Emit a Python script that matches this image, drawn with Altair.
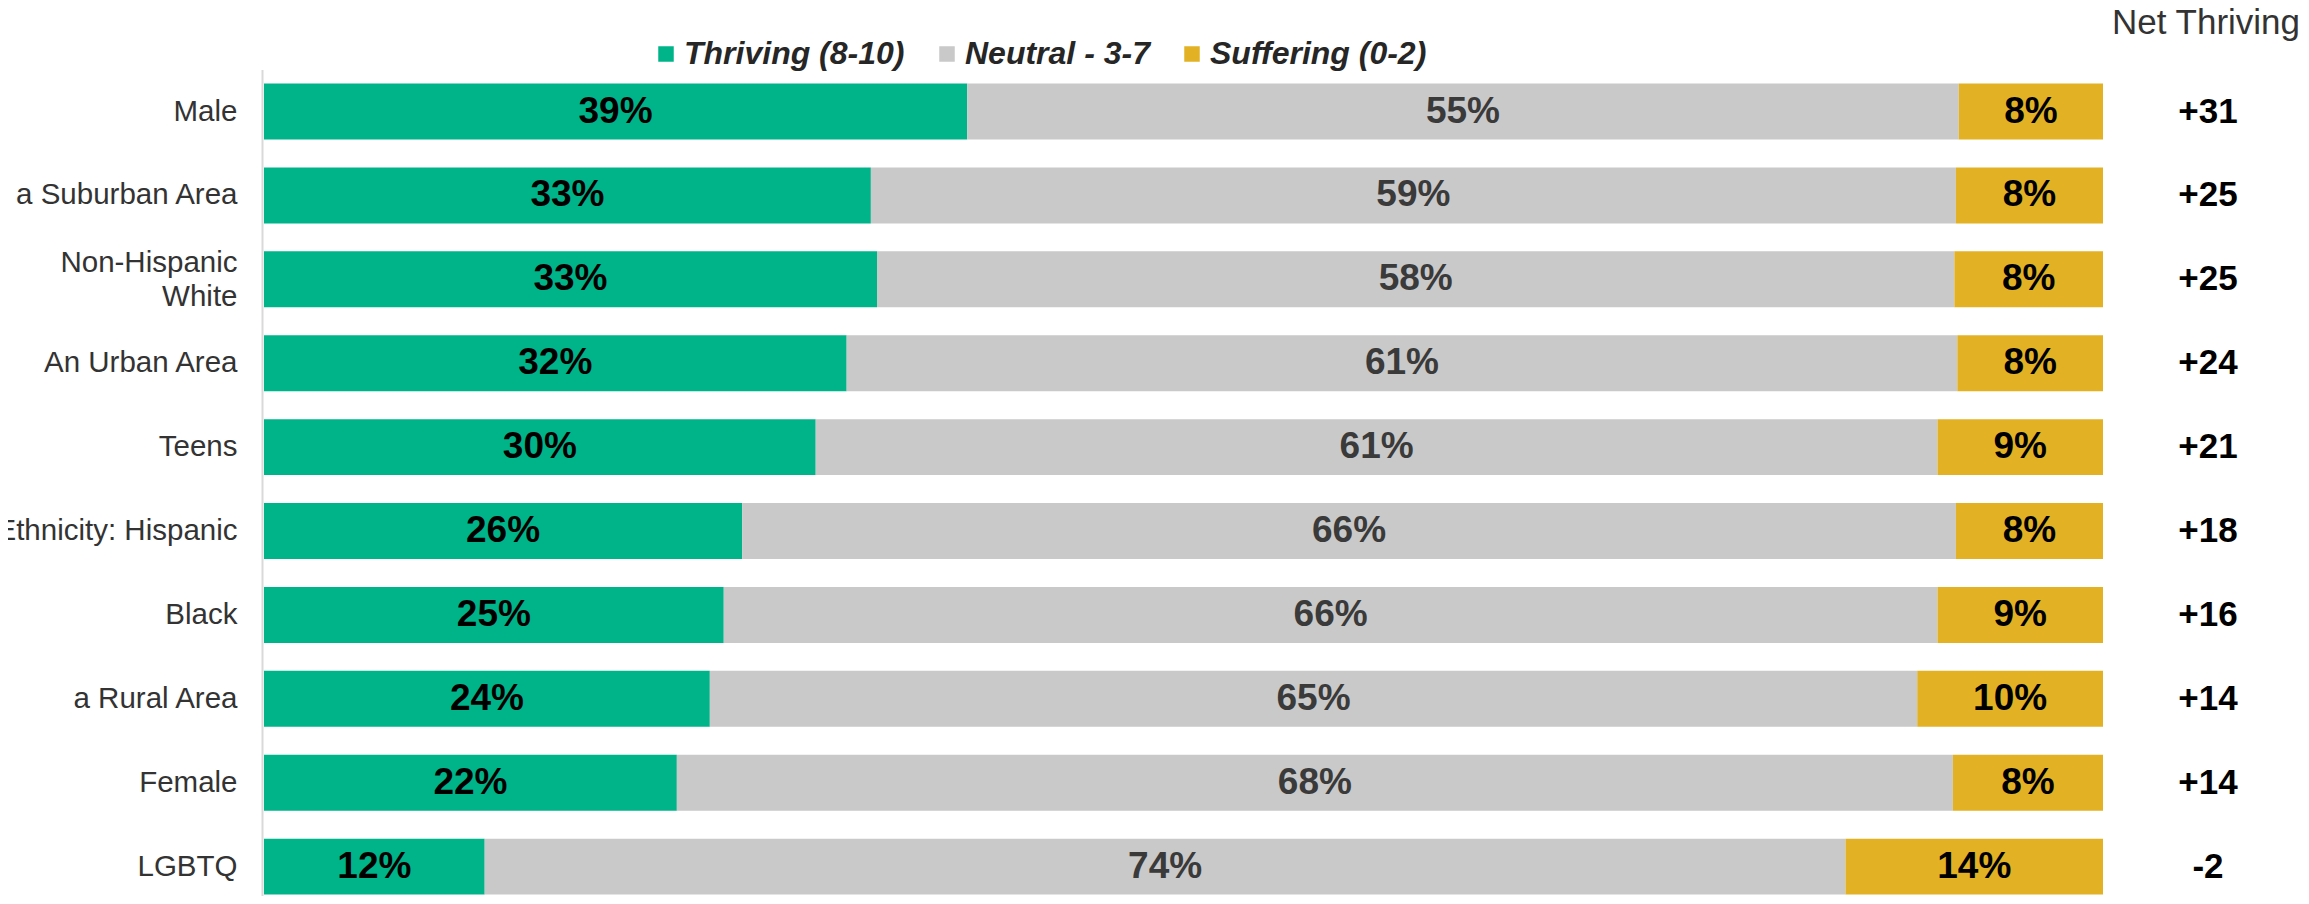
import altair as alt
import pandas as pd

categories = ["Male", "a Suburban Area", "Non-Hispanic\nWhite", "An Urban Area", "Teens",
              "Ethnicity: Hispanic", "Black", "a Rural Area", "Female", "LGBTQ"]
thriving = [39, 33, 33, 32, 30, 26, 25, 24, 22, 12]
neutral = [55, 59, 58, 61, 61, 66, 66, 65, 68, 74]
suffering = [8, 8, 8, 8, 9, 8, 9, 10, 8, 14]
net_thriving = ["+31", "+25", "+25", "+24", "+21", "+18", "+16", "+14", "+14", "-2"]
series = ["Thriving (8-10)", "Neutral - 3-7", "Suffering (0-2)"]
colors = ["#00B48A", "#C9C9C9", "#E2B224"]
header = ["Net Thriving"]

rows = []
for i, cat in enumerate(categories):
    vals = [thriving[i], neutral[i], suffering[i]]
    total = sum(vals)
    cum = 0
    for j, s in enumerate(series):
        start = cum / total
        cum += vals[j]
        end = cum / total
        rows.append({"category": cat, "series": s, "order": j, "value": vals[j],
                     "label": f"{vals[j]}%", "start": start, "end": end,
                     "mid": (start + end) / 2})
df = pd.DataFrame(rows)
net_df = pd.DataFrame({"category": categories, "net": net_thriving})
head_df = pd.DataFrame({"t": header})

FONT = "Liberation Sans"

y_enc = alt.Y("category:N", sort=categories,
              scale=alt.Scale(paddingInner=0.333, paddingOuter=0.089, align=0.94),
              axis=alt.Axis(title=None, labelFontSize=29.5, labelColor="#333333", labelFont=FONT,
                            domainColor="#D9D9D9", domainWidth=2, ticks=False, tickSize=0,
                            labelPadding=25, offset=2, labelLimit=500, labelLineHeight=34,
                            labelOffset=alt.condition("indexof(datum.value, 'White') >= 0",
                                                      alt.value(-16), alt.value(0)),
                            labelExpr="split(datum.label, '\\n')"))

x_scale = alt.Scale(domain=[0, 1], nice=False, zero=True)

bars = alt.Chart(df).mark_bar().encode(
    x=alt.X("start:Q", scale=x_scale, axis=None),
    x2="end:Q",
    y=y_enc,
    color=alt.Color("series:N", scale=alt.Scale(domain=series, range=colors),
                    legend=alt.Legend(title=None, orient="none", legendX=386, legendY=-31.5,
                                      direction="horizontal", symbolType="square",
                                      symbolSize=240, symbolStrokeWidth=0, symbolOpacity=1,
                                      labelFontSize=32, labelFontStyle="italic",
                                      labelFontWeight="bold", labelColor="#262626",
                                      labelFont=FONT, labelOffset=2, columnPadding=26,
                                      labelLimit=500)),
    order="order:Q",
)

vals = alt.Chart(df).mark_text(fontSize=37, fontWeight="bold", font=FONT, baseline="middle",
                               align="center").encode(
    x=alt.X("mid:Q", scale=x_scale, axis=None),
    y=alt.Y("category:N", sort=categories),
    text="label:N",
    color=alt.condition(alt.datum.series == "Neutral - 3-7", alt.value("#3a3a3a"), alt.value("#000000")),
)

net = alt.Chart(net_df).mark_text(fontSize=35, fontWeight="bold", font=FONT, baseline="middle",
                                  align="center", color="#000000").encode(
    x=alt.value(1944),
    y=alt.Y("category:N", sort=categories),
    text="net:N",
)

head = alt.Chart(head_df).mark_text(fontSize=35, font=FONT, baseline="alphabetic",
                                    align="center", color="#333333").encode(
    x=alt.value(1942),
    y=alt.value(-35.5),
    text="t:N",
)

chart = alt.layer(bars, vals, net, head).properties(
    width=1839, height=826,
    autosize=alt.AutoSizeParams(type="none"),
    padding={"left": 256, "top": 61.5, "right": 198, "bottom": 0},
).configure_view(stroke=None)

chart.save("out.html", embed_options={"renderer": "svg", "actions": False})
